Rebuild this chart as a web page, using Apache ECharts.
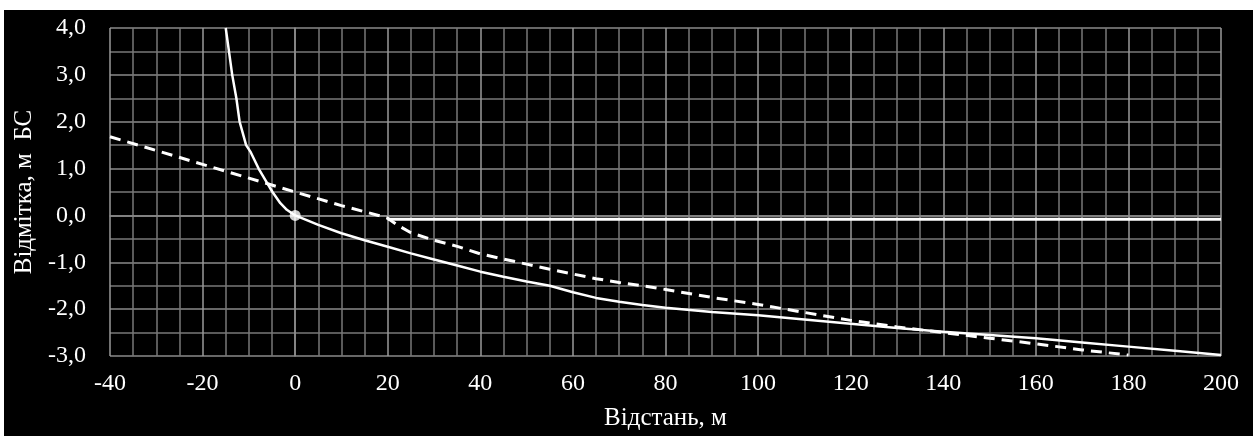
<!DOCTYPE html>
<html>
<head>
<meta charset="utf-8">
<script src="https://cdn.jsdelivr.net/npm/echarts@6/dist/echarts.min.js"></script>
<style>
  html, body { margin: 0; padding: 0; background: #ffffff; width: 1259px; height: 436px; overflow: hidden; }
  #chart { position: absolute; left: 4px; top: 10px; width: 1249px; height: 426px; background: #000000; }
</style>
</head>
<body>
<div id="chart"></div>
<script>
// Distance (m) and elevation (m BS) pairs
const groundProfile = [
  [-15, 4.0], [-14.3, 3.5], [-13.6, 3.0], [-12.7, 2.5], [-12.0, 2.0], [-11.3, 1.75],
  [-10.6, 1.5], [-9.6, 1.35], [-7.9, 1.0], [-6.4, 0.75], [-4.9, 0.5], [-3.2, 0.26],
  [-1.8, 0.12], [0, 0], [5, -0.2], [10, -0.38], [15, -0.53], [20, -0.67], [25, -0.81],
  [30, -0.94], [35, -1.07], [40, -1.2], [45, -1.31], [50, -1.41], [55, -1.5], [60, -1.64],
  [65, -1.76], [70, -1.84], [75, -1.91], [80, -1.97], [90, -2.06], [100, -2.13],
  [110, -2.22], [120, -2.31], [130, -2.40], [140, -2.48], [150, -2.55], [160, -2.62],
  [170, -2.71], [180, -2.80], [190, -2.89], [200, -2.98]
];
const designProfile = [
  [-40, 1.68], [-20, 1.09], [0, 0.5], [10, 0.21], [18, 0.0], [20, -0.06], [22, -0.2],
  [25, -0.37], [30, -0.53], [35, -0.66], [40, -0.82], [45, -0.93], [50, -1.04],
  [55, -1.15], [60, -1.25], [65, -1.35], [70, -1.43], [75, -1.5], [80, -1.58],
  [90, -1.75], [100, -1.9], [110, -2.07], [120, -2.24], [130, -2.38], [140, -2.5],
  [150, -2.62], [160, -2.74], [170, -2.87], [180, -2.98]
];
const waterLevel = [[20, -0.08], [200, -0.08]];
const originPoint = [[0, 0]];

const xTitle = 'Відстань, м';
const yTitle = 'Відмітка, м  БС';

const chart = echarts.init(document.getElementById('chart'), null, { renderer: 'canvas' });
const fontFam = '"Liberation Serif", "DejaVu Serif", serif';
chart.setOption({
  backgroundColor: '#000000',
  animation: false,
  grid: { left: 106, top: 18, right: 32, bottom: 80, containLabel: false },
  xAxis: {
    type: 'value', min: -40, max: 200, interval: 20,
    name: xTitle, nameLocation: 'middle', nameGap: 50,
    nameTextStyle: { color: '#ffffff', fontFamily: fontFam, fontSize: 25 },
    axisLine: { show: true, lineStyle: { color: '#8a8a8a', width: 1.5 } },
    axisTick: { show: false },
    axisLabel: { color: '#ffffff', fontFamily: fontFam, fontSize: 24, margin: 16 },
    splitLine: { show: true, lineStyle: { color: '#9a9a9a', width: 1.5 } },
    minorTick: { show: false, splitNumber: 4 },
    minorSplitLine: { show: true, lineStyle: { color: '#787878', width: 1.5 } }
  },
  yAxis: {
    type: 'value', min: -3, max: 4, interval: 1,
    name: yTitle, nameLocation: 'middle', nameGap: 68, nameRotate: 90,
    nameTextStyle: { color: '#ffffff', fontFamily: fontFam, fontSize: 25 },
    axisLine: { show: true, lineStyle: { color: '#8a8a8a', width: 1.5 } },
    axisTick: { show: false },
    axisLabel: { color: '#ffffff', fontFamily: fontFam, fontSize: 24, margin: 24,
      formatter: v => v.toFixed(1).replace('.', ',') },
    splitLine: { show: true, lineStyle: { color: '#8a8a8a', width: 1.5 } },
    minorTick: { show: false, splitNumber: 2 },
    minorSplitLine: { show: true, lineStyle: { color: '#787878', width: 1.5 } }
  },
  series: [
    { type: 'line', data: designProfile, showSymbol: false, symbol: 'none',
      lineStyle: { color: '#ffffff', width: 3, type: [11, 7] }, z: 3 },
    { type: 'line', data: waterLevel, showSymbol: false, symbol: 'none',
      lineStyle: { color: '#ffffff', width: 3 }, z: 3 },
    { type: 'line', data: groundProfile, showSymbol: false, symbol: 'none',
      lineStyle: { color: '#ffffff', width: 2.5 }, z: 4 },
    { type: 'scatter', data: originPoint, symbol: 'circle', symbolSize: 11,
      itemStyle: { color: '#ffffff' }, z: 5 }
  ]
});
</script>
</body>
</html>
